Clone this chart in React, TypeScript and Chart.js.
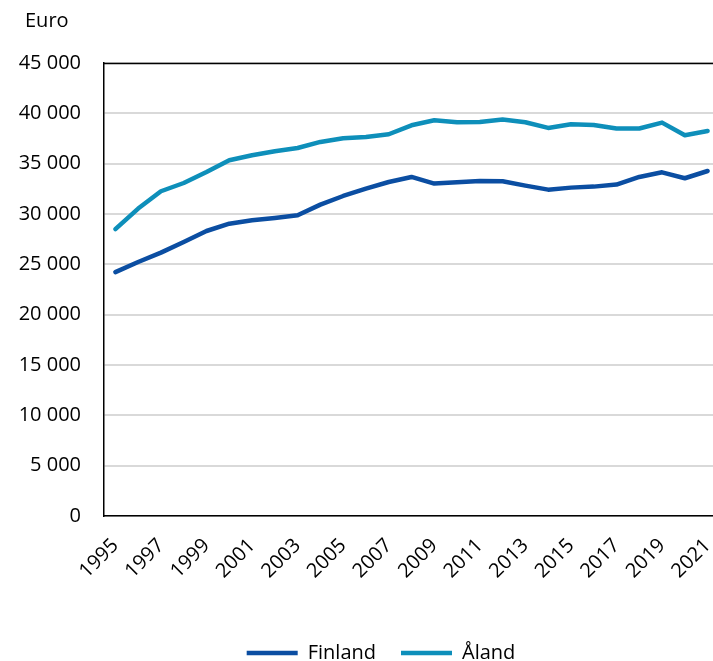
import React, { useEffect, useRef } from "react";
import { Chart, registerables } from "chart.js";

Chart.register(...registerables);

const years: string[] = [
  "1995", "1996", "1997", "1998", "1999", "2000", "2001", "2002", "2003",
  "2004", "2005", "2006", "2007", "2008", "2009", "2010", "2011", "2012",
  "2013", "2014", "2015", "2016", "2017", "2018", "2019", "2020", "2021",
];

const finland: number[] = [
  24230, 25230, 26160, 27220, 28310, 29040, 29370, 29600, 29870,
  30930, 31790, 32520, 33180, 33680, 33020, 33150, 33280, 33250,
  32820, 32420, 32620, 32720, 32920, 33680, 34140, 33550, 34270,
];

const aland: number[] = [
  28500, 30540, 32260, 33080, 34170, 35340, 35830, 36230, 36560,
  37160, 37520, 37650, 37920, 38810, 39310, 39110, 39140, 39380,
  39110, 38550, 38910, 38850, 38490, 38490, 39080, 37820, 38250,
];

const yTicks: number[] = [0, 5000, 10000, 15000, 20000, 25000, 30000, 35000, 40000, 45000];

const unitLabel = "Euro";
const FONT = "'Open Sans', sans-serif";

const fmt = (v: number) => {
  const s = Math.round(v).toString();
  return s.replace(/\B(?=(\d{3})+(?!\d))/g, " ");
};

export default function App() {
  const ref = useRef<HTMLCanvasElement | null>(null);

  useEffect(() => {
    if (!ref.current) return;
    const framePlugin = {
      id: "frame",
      afterLayout(chart: any) {
        const lg = chart.legend;
        if (lg) {
          lg.left += 21.5;
          lg.right += 21.5;
        }
      },
      afterDraw(chart: any) {
        const { ctx, chartArea } = chart;
        ctx.save();
        ctx.strokeStyle = "#000";
        ctx.lineWidth = 1.5;
        ctx.beginPath();
        ctx.moveTo(chartArea.left, chartArea.top + 0.5);
        ctx.lineTo(chartArea.right, chartArea.top + 0.5);
        ctx.stroke();
        ctx.fillStyle = "#000";
        ctx.font = `20px ${FONT}`;
        ctx.textAlign = "left";
        ctx.textBaseline = "alphabetic";
        ctx.fillText(unitLabel, 25, 27);
        ctx.restore();
      },
    };
    const chart = new Chart(ref.current, {
      type: "line",
      data: {
        labels: years,
        datasets: [
          {
            label: "Finland",
            data: finland,
            borderColor: "#0B4EA2",
            backgroundColor: "#0B4EA2",
            borderWidth: 4.5,
            borderCapStyle: "round",
            borderJoinStyle: "round",
            pointRadius: 0,
            tension: 0,
          },
          {
            label: "Åland",
            data: aland,
            borderColor: "#0E8FBA",
            backgroundColor: "#0E8FBA",
            borderWidth: 4.5,
            borderCapStyle: "round",
            borderJoinStyle: "round",
            pointRadius: 0,
            tension: 0,
          },
        ],
      },
      options: {
        animation: false,
        responsive: false,
        layout: { padding: { top: 63, right: 11, left: 0, bottom: 0 } },
        plugins: {
          tooltip: { enabled: false },
          legend: {
            position: "bottom",
            labels: {
              usePointStyle: true,
              pointStyle: "line",
              pointStyleWidth: 51,
              boxHeight: 20,
              padding: 25,
              color: "#000",
              font: { family: FONT, size: 20 },
            },
          },
        },
        scales: {
          x: {
            offset: true,
            grid: { display: false, drawTicks: false },
            border: { display: true, color: "#000", width: 1.5 },
            ticks: {
              autoSkip: false,
              maxRotation: 45,
              minRotation: 45,
              padding: 18,
              color: "#000",
              font: { family: FONT, size: 20 },
              callback: (_v: any, i: number) => (i % 2 === 0 ? years[i] : ""),
            },
            afterFit: (s: any) => {
              s.height = 102;
              s.paddingLeft = 0;
              s.paddingRight = 0;
            },
          },
          y: {
            min: 0,
            max: 45000,
            afterBuildTicks: (s: any) => {
              s.ticks = yTicks.map((v) => ({ value: v }));
            },
            grid: { color: "#d9d9d9", lineWidth: 2, drawTicks: false },
            border: { display: true, color: "#000", width: 1.5 },
            ticks: {
              padding: 23,
              color: "#000",
              font: { family: FONT, size: 20 },
              callback: (v: any) => fmt(Number(v)),
            },
            afterFit: (s: any) => {
              s.width = 104;
            },
          },
        },
      },
      plugins: [framePlugin],
    });
    return () => chart.destroy();
  }, []);

  return (
    <div
      style={{
        position: "fixed",
        left: 0,
        top: 0,
        width: 713,
        height: 661,
        overflow: "hidden",
        background: "#fff",
      }}
    >
      <canvas ref={ref} width={730} height={673} style={{ display: "block" }} />
    </div>
  );
}
